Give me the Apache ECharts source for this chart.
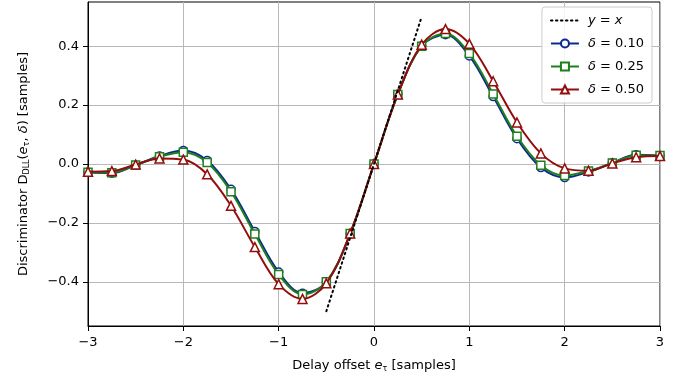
<!DOCTYPE html>
<html>
<head>
<meta charset="utf-8">
<script src="https://cdn.jsdelivr.net/npm/echarts@6/dist/echarts.min.js"></script>
<style>
html,body{margin:0;padding:0;background:#fff;}
#chart{width:689px;height:378px;}
</style>
</head>
<body>
<div id="chart"></div>
<script>
// Delay offsets (samples) where markers are drawn
const delayOffsets = [-3, -2.75, -2.5, -2.25, -2, -1.75, -1.5, -1.25, -1, -0.75, -0.5, -0.25, 0,
  0.25, 0.5, 0.75, 1, 1.25, 1.5, 1.75, 2, 2.25, 2.5, 2.75, 3];
// Discriminator output, delta = 0.10
const d010 = [-0.028, -0.031, -0.004, 0.027, 0.046, 0.012, -0.086, -0.229, -0.367, -0.439, -0.401, -0.237, 0,
  0.237, 0.401, 0.439, 0.367, 0.229, 0.086, -0.012, -0.046, -0.027, 0.004, 0.031, 0.028];
// delta = 0.25
const d025 = [-0.028, -0.030, -0.003, 0.025, 0.040, 0.005, -0.094, -0.238, -0.375, -0.443, -0.400, -0.236, 0,
  0.236, 0.400, 0.443, 0.375, 0.238, 0.094, -0.004, -0.039, -0.024, 0.003, 0.030, 0.029];
// delta = 0.50
const d050 = [-0.026, -0.024, -0.002, 0.019, 0.015, -0.035, -0.142, -0.282, -0.408, -0.458, -0.405, -0.236, 0,
  0.236, 0.405, 0.458, 0.408, 0.281, 0.141, 0.036, -0.015, -0.023, 0.002, 0.023, 0.027];
// identity reference y = x
const identityX = [-0.5, 0.5];
const identityY = [-0.5, 0.5];
// tick labels
const xTicks = [-3, -2, -1, 0, 1, 2, 3];
const yTicks = [-0.4, -0.2, 0, 0.2, 0.4];

const seriesNames = ['y = x', 'δ = 0.10', 'δ = 0.25', 'δ = 0.50'];
const colors = {blue: '#0b2a8e', green: '#1f7f1f', red: '#930d0d'};

function pairs(xs, ys) { return xs.map((x, i) => [x, ys[i]]); }
function minus(s) { return String(s).replace('-', '\u2212'); }

const font = 'DejaVu Sans';
const chart = echarts.init(document.getElementById('chart'), null, {renderer: 'canvas'});

function mk(name, data, color, symbol, z) {
  return {
    name: name, type: 'line', data: pairs(delayOffsets, data), smooth: 0.35,
    symbol: symbol, symbolSize: symbol === 'triangle' ? 9 : 8,
    lineStyle: {color: color, width: 2},
    itemStyle: {color: '#fff', borderColor: color, borderWidth: 1.5},
    z: z, animation: false
  };
}

chart.setOption({
  animation: false,
  textStyle: {fontFamily: font},
  grid: {left: 88, right: 29, top: 2, bottom: 52, show: true, borderColor: '#000', borderWidth: 1, backgroundColor: 'transparent'},
  legend: {
    orient: 'vertical', right: 37, top: 7, itemWidth: 28, itemHeight: 10, itemGap: 8,
    padding: [6, 8, 6, 8], backgroundColor: 'rgba(255,255,255,0.85)', borderColor: '#cccccc', borderWidth: 1, borderRadius: 3,
    data: [
      {name: 'y = x', itemStyle: {color: 'transparent', borderColor: 'transparent', borderWidth: 0}},
      {name: 'δ = 0.10'}, {name: 'δ = 0.25'}, {name: 'δ = 0.50'}
    ],
    formatter: function (n) {
      if (n === 'y = x') return '{i|y} = {i|x}';
      return '{i|δ} ' + n.slice(2);
    },
    textStyle: {fontSize: 13, color: '#000', fontFamily: font, lineHeight: 15, padding: [0, 0, 0, 4],
      rich: {i: {fontStyle: 'italic', fontSize: 13, fontFamily: font}}}
  },
  xAxis: {
    type: 'value', min: -3, max: 3, interval: 1,
    axisLine: {show: true, onZero: false, lineStyle: {color: '#000', width: 1}},
    axisTick: {show: true, inside: false, length: 5, lineStyle: {color: '#000'}},
    axisLabel: {fontSize: 13, color: '#000', margin: 10, fontFamily: font, formatter: v => minus(v)},
    splitLine: {show: true, lineStyle: {color: '#b8b8b8', width: 1}},
    name: '{n|Delay offset }{e|e}{s|τ}{n| [samples]}', nameLocation: 'middle', nameGap: 33,
    nameTextStyle: {fontSize: 13, color: '#000', fontFamily: font,
      rich: {n: {fontSize: 13, fontFamily: font}, e: {fontSize: 13, fontStyle: 'italic', fontFamily: font},
        s: {fontSize: 8, fontFamily: font, verticalAlign: 'bottom', padding: [6, 0, 0, 0]}}}
  },
  yAxis: {
    type: 'value', min: -0.55, max: 0.55,
    axisLine: {show: true, onZero: false, lineStyle: {color: '#000', width: 1}},
    axisTick: {show: true, inside: false, length: 5, lineStyle: {color: '#000'}, customValues: yTicks},
    axisLabel: {fontSize: 13, color: '#000', margin: 9, fontFamily: font, customValues: yTicks, formatter: v => minus(v.toFixed(1))},
    splitLine: {show: true, lineStyle: {color: '#b8b8b8', width: 1}},
    name: '{n|Discriminator D}{s|DLL}{n|(}{e|e}{s|τ}{n|, }{e|δ}{n|) [samples]}', nameLocation: 'middle', nameGap: 57, nameRotate: 90,
    nameTextStyle: {fontSize: 13, color: '#000', fontFamily: font,
      rich: {n: {fontSize: 13, fontFamily: font}, e: {fontSize: 13, fontStyle: 'italic', fontFamily: font},
        s: {fontSize: 8, fontFamily: font, verticalAlign: 'bottom', padding: [6, 0, 0, 0]}}}
  },
  series: [
    {name: 'y = x', type: 'line', data: pairs(identityX, identityY), symbol: 'none',
      lineStyle: {color: '#000', width: 2, type: [1.5, 3.5], cap: 'round'}, itemStyle: {color: '#000'}, z: 5},
    mk('δ = 0.10', d010, colors.blue, 'circle', 2),
    mk('δ = 0.25', d025, colors.green, 'rect', 3),
    mk('δ = 0.50', d050, colors.red, 'triangle', 4)
  ]
});
</script>
</body>
</html>
